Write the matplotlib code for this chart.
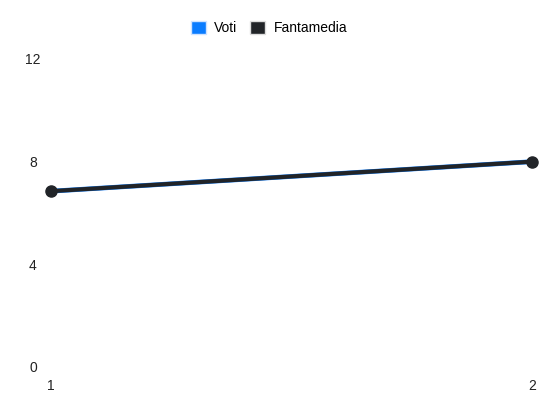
import matplotlib
matplotlib.use("Agg")
import matplotlib.pyplot as plt
from matplotlib.patches import Patch

plt.rcParams["font.family"] = ["Liberation Sans", "DejaVu Sans"]

giornate = [1, 2]
voti = [6.85, 8.0]
fantamedia = [6.85, 8.0]
y_ticks = [0, 4, 8, 12]

fig = plt.figure(figsize=(5.5, 4.12), dpi=100)
ax = fig.add_axes([51 / 550, 1 - 367 / 412, 481 / 550, 308 / 412])

ax.plot(giornate, voti, color="#0a7cff", lw=3.4, solid_capstyle="butt", zorder=2)
ax.plot(giornate, fantamedia, color="#212428", lw=3.0, marker="o", ms=8,
        solid_capstyle="butt", zorder=3, clip_on=False)

ax.set_xlim(1, 2)
ax.set_ylim(0, 12)
ax.set_xticks(giornate)
ax.set_xticklabels([str(g) for g in giornate])
ax.set_yticks(y_ticks)
for s in ax.spines.values():
    s.set_visible(False)
ax.tick_params(length=0, labelsize=10, colors="#222222")
ax.tick_params(axis="y", pad=13)
ax.tick_params(axis="x", pad=9)
for lbl in ax.get_yticklabels():
    lbl.set_horizontalalignment("center")

handles = [Patch(facecolor="#0a7cff", edgecolor="#cfe3ff", label="Voti"),
           Patch(facecolor="#212428", edgecolor="#dddddd", label="Fantamedia")]
fig.legend(handles=handles, loc="center", bbox_to_anchor=(269 / 550, 1 - 28 / 412),
           ncol=2, frameon=False, fontsize=10, handlelength=1.1, handleheight=1.1,
           handletextpad=0.6, columnspacing=0.9)

fig.savefig("out.png", dpi=100)
